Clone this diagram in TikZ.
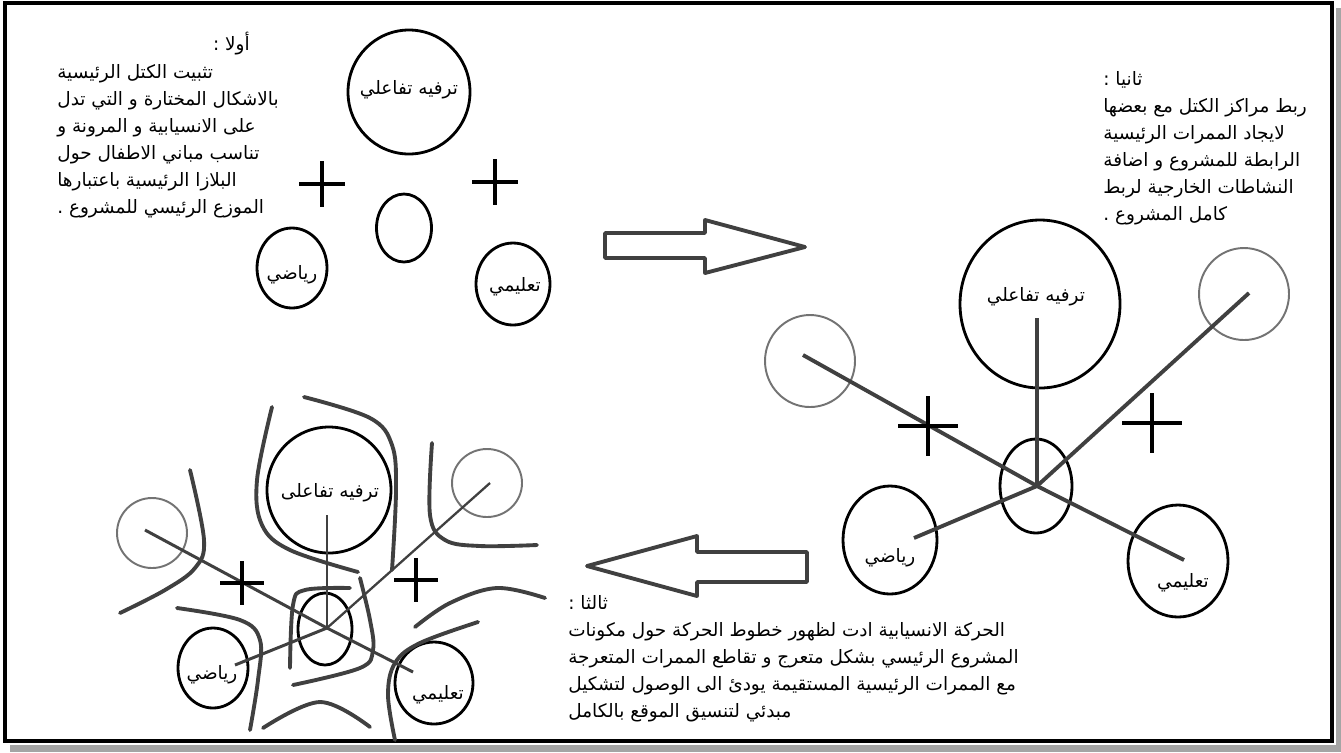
\documentclass[tikz,border=0pt]{standalone}
\usepackage{fontspec}
\usepackage{tikz}
\usetikzlibrary{shapes.geometric}
\newfontfamily\arabicfont[Script=Arabic]{DejaVu Sans}
\TeXXeTstate=1
\definecolor{linegray}{RGB}{64,64,64}
\definecolor{fadegray}{RGB}{115,115,115}
\definecolor{shadowgray}{RGB}{165,165,165}

\begin{document}
\begin{tikzpicture}[
  x=0.02cm, y=-0.02cm,
  every node/.style={font=\arabicfont\fontsize{10.5}{15.4}\selectfont, inner sep=0pt},
  ring/.style 2 args={ellipse, draw=black, line width=1.6pt, minimum width=#1*0.02cm, minimum height=#2*0.02cm},
  ghost/.style 2 args={ellipse, draw=fadegray, line width=1.1pt, minimum width=#1*0.02cm, minimum height=#2*0.02cm},
  link/.style={draw=linegray, line width=2.2pt},
  wave/.style={draw=linegray, line width=2.2pt, line cap=round},
  plus/.style={draw=black, line width=1.8pt},
  bigarrow/.style={draw=linegray, line width=2.2pt, fill=white, line join=round},
  para/.style={align=left, anchor=north west}
]
\useasboundingbox (0,0) rectangle (1341,752);

% Frame
\fill[shadowgray] (1336,8) rectangle (1341,752);
\fill[shadowgray] (10,745) rectangle (1341,752);
\draw[line width=2.4pt, fill=white] (5,3) rectangle (1332,741);

% Panel 1: masses
\node[ring={122}{124}] (R1) at (409,92) {};
\node (R1t) at (409,90) {\beginR ترفيه تفاعلي\endR};
\node[ring={55}{68}] (H1) at (404,228) {};
\node[ring={70}{80}] (M1) at (292,268) {};
\node (M1t) at (292,275) {\beginR رياضي\endR};
\node[ring={74}{82}] (E1) at (513,284) {};
\node (E1t) at (515,287) {\beginR تعليمي\endR};

\node[anchor=east] (P1h) at (250,44) {\beginR أولا :\endR};
\node[para] (P1) at (57,64)
  {\beginR تثبيت الكتل الرئيسية\endR\\
   \beginR بالاشكال المختارة و التي تدل\endR\\
   \beginR على الانسيابية و المرونة و\endR\\
   \beginR تناسب مباني الاطفال حول\endR\\
   \beginR البلازا الرئيسية باعتبارها\endR\\
   \beginR الموزع الرئيسي للمشروع .\endR};

% Panel 2: main paths
\node[ring={160}{168}] (R2) at (1040,304) {};
\node (R2t) at (1036,297) {\beginR ترفيه تفاعلي\endR};
\node[ring={72}{94}] (H2) at (1036,486) {};
\node[ring={94}{108}] (M2) at (890,540) {};
\node (M2t) at (890,558) {\beginR رياضي\endR};
\node[ring={100}{112}] (E2) at (1178,561) {};
\node (E2t) at (1183,583) {\beginR تعليمي\endR};
\node[ghost={90}{92}] (L2) at (810,361) {};
\node[ghost={90}{92}] (U2) at (1244,294) {};

\coordinate (h2) at (1037,486);
\coordinate (r2) at (1037,318);
\coordinate (l2) at (803,355);
\coordinate (u2) at (1249,293);
\coordinate (m2) at (914,538);
\coordinate (e2) at (1184,560);
\draw[link] (h2) -- (r2);
\draw[link] (h2) -- (l2);
\draw[link] (h2) -- (u2);
\draw[link] (h2) -- (m2);
\draw[link] (h2) -- (e2);

\node[para] (P2) at (1103,71)
  {\beginR ثانيا :\endR\\
   \beginR ربط مراكز الكتل مع بعضها\endR\\
   \beginR لايجاد الممرات الرئيسية\endR\\
   \beginR الرابطة للمشروع و اضافة\endR\\
   \beginR النشاطات الخارجية لربط\endR\\
   \beginR كامل المشروع .\endR};

% Panel 3: movement lines
\node[ring={124}{126}] (R3) at (329,490) {};
\node (R3t) at (330,493) {\beginR ترفيه تفاعلى\endR};
\node[ring={54}{72}] (H3) at (325,629) {};
\node[ring={70}{80}] (M3) at (213,668) {};
\node (M3t) at (212,675) {\beginR رياضي\endR};
\node[ring={78}{82}] (E3) at (434,683) {};
\node (E3t) at (438,695) {\beginR تعليمي\endR};
\node[ghost={70}{70}] (L3) at (152,533) {};
\node[ghost={70}{68}] (U3) at (487,483) {};

\coordinate (h3) at (327,628);
\coordinate (r3) at (327,515);
\coordinate (l3) at (145,530);
\coordinate (u3) at (490,483);
\coordinate (m3) at (235,665);
\coordinate (e3) at (413,672);
\draw[link, line width=1.7pt] (h3) -- (r3);
\draw[link, line width=1.7pt] (h3) -- (l3);
\draw[link, line width=1.3pt] (h3) -- (u3);
\draw[link, line width=1.7pt] (h3) -- (m3);
\draw[link, line width=1.7pt] (h3) -- (e3);

\draw[wave] plot[smooth, tension=0.6] coordinates {(190,470) (204,540) (195,568) (165,590) (120,613)};
\draw[wave] plot[smooth, tension=0.6] coordinates {(272,407) (257,480) (262,525) (290,550) (358,572)};
\draw[wave] plot[smooth, tension=0.6] coordinates {(304,397) (370,418) (392,445) (396,490) (392,570)};
\draw[wave] plot[smooth, tension=0.6] coordinates {(432,443) (430,515) (445,540) (480,546) (537,545)};
\draw[wave] plot[smooth, tension=0.6] coordinates {(415,627) (450,603) (497,588) (545,598)};
\draw[wave] plot[smooth, tension=0.6] coordinates {(478,622) (420,643) (395,663) (388,695) (395,740)};
\draw[wave] plot[smooth, tension=0.6] coordinates {(350,588) (305,590) (293,605) (290,668)};
\draw[wave] plot[smooth, tension=0.6] coordinates {(360,578) (370,620) (373,650) (360,668) (293,685)};
\draw[wave] plot[smooth, tension=0.6] coordinates {(177,608) (240,620) (260,640) (258,680) (250,730)};
\draw[wave] plot[smooth, tension=0.6] coordinates {(263,728) (320,702) (370,727)};

\node[para] (P3) at (568,595)
  {\beginR ثالثا :\endR\\
   \beginR الحركة الانسيابية ادت لظهور خطوط الحركة حول مكونات\endR\\
   \beginR المشروع الرئيسي بشكل متعرج و تقاطع الممرات المتعرجة\endR\\
   \beginR مع الممرات الرئيسية المستقيمة يودئ الى الوصول لتشكيل\endR\\
   \beginR مبدئي لتنسيق الموقع بالكامل\endR};

% Plus signs
\foreach \x/\y/\r in {322/184/23, 495/182/23, 928/426/30, 1152/423/30, 242/583/22, 416/580/22}
  \draw[plus] (\x-\r,\y) -- (\x+\r,\y) (\x,\y-\r) -- (\x,\y+\r);

% Block arrows
\draw[bigarrow] (605,233) -- (705,233) -- (705,220) -- (805,247) -- (705,273) -- (705,258) -- (605,258) -- cycle;
\draw[bigarrow] (807,552) -- (697,552) -- (697,536) -- (587,566) -- (697,596) -- (697,582) -- (807,582) -- cycle;

\end{tikzpicture}
\end{document}
